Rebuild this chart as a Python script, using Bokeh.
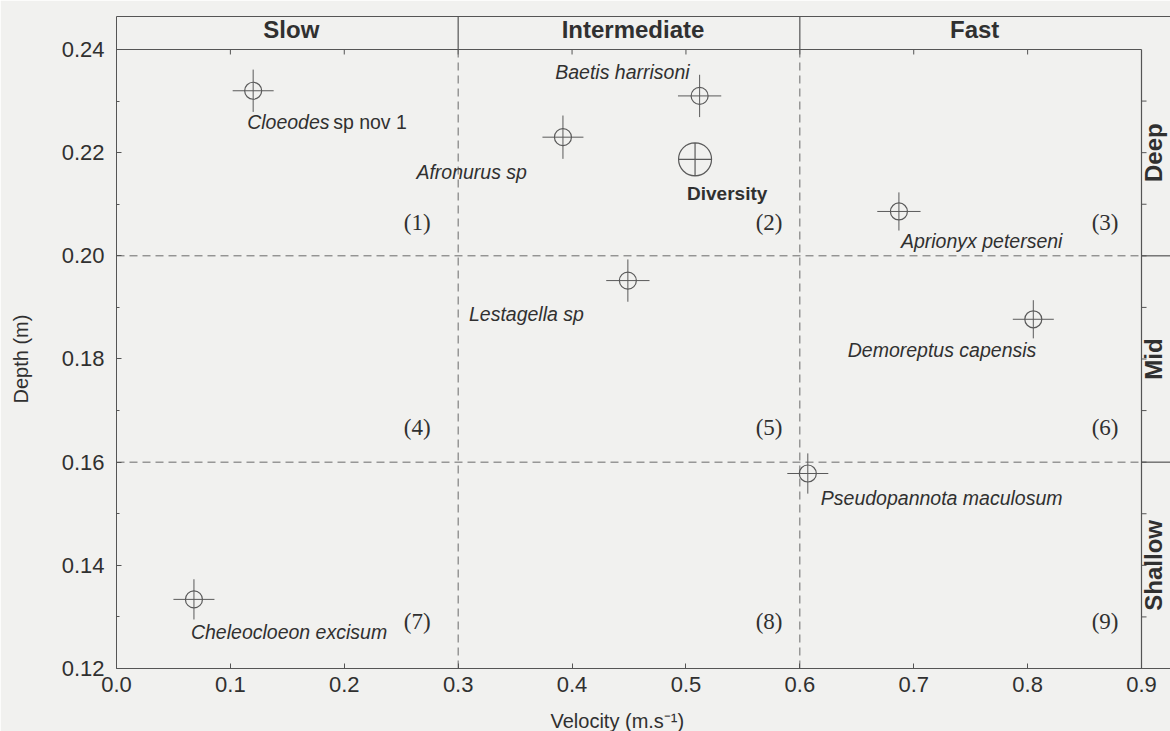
import math

from bokeh.core.properties import value
from bokeh.embed import file_html
from bokeh.models import ColumnDataSource, FixedTicker, LinearAxis, Range1d, Title
from bokeh.plotting import figure
from bokeh.resources import INLINE

# --- data -------------------------------------------------------------------
species_italic = ["Cloeodes", "Afronurus sp", "Baetis harrisoni", "Aprionyx peterseni",
                  "Lestagella sp", "Demoreptus capensis", "Pseudopannota maculosum",
                  "Cheleocloeon excisum"]
species_plain = ["sp nov 1", "", "", "", "", "", "", ""]
velocity = [0.120, 0.392, 0.512, 0.687, 0.449, 0.805, 0.607, 0.068]
depth = [0.2320, 0.2230, 0.2310, 0.2086, 0.1952, 0.1877, 0.1578, 0.1334]
velocity_se = [0.018, 0.018, 0.019, 0.019, 0.019, 0.018, 0.018, 0.018]
depth_se = [0.0041, 0.0042, 0.0041, 0.0037, 0.0041, 0.0037, 0.0039, 0.0039]

diversity_label = ["Diversity"]
diversity_velocity = [0.508]
diversity_depth = [0.2187]

velocity_classes = ["Slow", "Intermediate", "Fast"]
velocity_bounds = [0.0, 0.3, 0.6, 0.9]
depth_classes = ["Deep", "Mid", "Shallow"]
depth_bounds = [0.24, 0.20, 0.16, 0.12]
zone_names = ["(1)", "(2)", "(3)", "(4)", "(5)", "(6)", "(7)", "(8)", "(9)"]

x_ticks = [0.0, 0.1, 0.2, 0.3, 0.4, 0.5, 0.6, 0.7, 0.8, 0.9]
x_tick_labels = ["0.0", "0.1", "0.2", "0.3", "0.4", "0.5", "0.6", "0.7", "0.8", "0.9"]
y_ticks = [0.12, 0.14, 0.16, 0.18, 0.20, 0.22, 0.24]
y_tick_labels = ["0.12", "0.14", "0.16", "0.18", "0.20", "0.22", "0.24"]
y_minor = [0.13, 0.15, 0.17, 0.19, 0.21, 0.23]

x_title = "Velocity (m.s\u207b\u00b9)"
y_title = "Depth (m)"

# --- layout constants ---------------------------------------------------------
W, H = 1170, 731
PX_X = 1138.9          # pixels per m/s
PX_Y = 5160.0          # pixels per m
HEAD = 33 / PX_Y       # height of the velocity-class strip
SIDE = 29 / PX_X       # width of the depth-class strip
V_MAX = velocity_bounds[-1]
D_MAX = depth_bounds[0]
D_MIN = depth_bounds[-1]

BG = "#f1f1ef"
INK = "#303030"
FRAME = "#555555"
DASH = "#6a6a6a"
MARK = "#5a5a5a"
SANS = "Liberation Sans"
SERIF = "Liberation Serif"

p = figure(width=W, height=H,
           x_range=Range1d(0, V_MAX + SIDE), y_range=Range1d(D_MIN, D_MAX + HEAD),
           output_backend="svg", toolbar_location=None,
           min_border_left=116, min_border_right=0, min_border_top=16, min_border_bottom=63,
           background_fill_color=BG, border_fill_color=BG, outline_line_color=None)
p.grid.visible = False

# bottom axis
xa = p.xaxis[0]
xa.ticker = FixedTicker(ticks=x_ticks, minor_ticks=[])
xa.major_label_overrides = {t: s for t, s in zip(x_ticks, x_tick_labels)}
xa.major_tick_in = 5
xa.major_tick_out = 0
xa.minor_tick_in = 0
xa.minor_tick_out = 0
xa.major_label_standoff = 8
xa.major_label_text_font = SANS
xa.major_label_text_font_size = "22px"
xa.major_label_text_color = INK
xa.axis_line_color = FRAME
xa.major_tick_line_color = FRAME
# blank spacer label pushes the title panel away from the tick labels
xa.axis_label = " "
xa.axis_label_text_font_size = "1px"
xa.axis_label_standoff = 9

# left axis
ya = p.yaxis[0]
ya.ticker = FixedTicker(ticks=y_ticks, minor_ticks=y_minor)
ya.major_label_overrides = {t: s for t, s in zip(y_ticks, y_tick_labels)}
ya.major_tick_in = 5
ya.major_tick_out = 0
ya.minor_tick_in = 3
ya.minor_tick_out = 0
ya.major_label_standoff = 12
ya.major_label_text_font = SANS
ya.major_label_text_font_size = "22px"
ya.major_label_text_color = INK
ya.axis_line_color = FRAME
ya.major_tick_line_color = FRAME
ya.minor_tick_line_color = FRAME
ya.axis_label = " "
ya.axis_label_text_font_size = "1px"
ya.axis_label_standoff = 23

# axis titles, set in the side panels
p.add_layout(Title(text=y_title, align="left", offset=265, standoff=0,
                   text_font=SANS, text_font_size="20px", text_font_style="normal",
                   text_color=INK), "left")
p.add_layout(Title(text=x_title, align="left", offset=434, standoff=0,
                   text_font=SANS, text_font_size="20px", text_font_style="normal",
                   text_color=INK), "below")

# top border line of the class strip
top = LinearAxis(ticker=FixedTicker(ticks=[]), major_tick_in=0, major_tick_out=0,
                 minor_tick_in=0, minor_tick_out=0, major_label_text_font_size="0px",
                 axis_line_color=FRAME)
p.add_layout(top, "above")

# frame of the plotting region (top and right edges)
p.segment(x0=[0, V_MAX], y0=[D_MAX, D_MIN], x1=[V_MAX, V_MAX], y1=[D_MAX, D_MAX],
          line_color=FRAME, line_width=1.2)

# inner ticks along the top edge and outer ticks along the right edge
tick_x = x_ticks[1:-1]
p.segment(x0=tick_x, y0=[D_MAX] * len(tick_x), x1=tick_x,
          y1=[D_MAX - 5 / PX_Y] * len(tick_x), line_color=FRAME, line_width=1)
right_ticks = sorted(y_ticks[1:-1] + y_minor)
p.segment(x0=[V_MAX] * len(right_ticks), y0=right_ticks,
          x1=[V_MAX + 5 / PX_X] * len(right_ticks), y1=right_ticks,
          line_color=FRAME, line_width=1)

# class boundaries: dashed inside the plot, solid across the strips
inner_v = velocity_bounds[1:-1]
inner_d = depth_bounds[1:-1]
p.segment(x0=inner_v, y0=[D_MIN] * 2, x1=inner_v, y1=[D_MAX] * 2,
          line_color=DASH, line_width=1, line_dash="8 5")
p.segment(x0=[0] * 2, y0=inner_d, x1=[V_MAX] * 2, y1=inner_d,
          line_color=DASH, line_width=1, line_dash="8 5")
p.segment(x0=inner_v, y0=[D_MAX] * 2, x1=inner_v, y1=[D_MAX + HEAD] * 2,
          line_color=FRAME, line_width=1.2)
p.segment(x0=[V_MAX] * 2, y0=inner_d, x1=[V_MAX + SIDE] * 2, y1=inner_d,
          line_color=FRAME, line_width=1.2)

# class names
col_mid = [(a + b) / 2 for a, b in zip(velocity_bounds[:-1], velocity_bounds[1:])]
row_mid = [(a + b) / 2 for a, b in zip(depth_bounds[:-1], depth_bounds[1:])]
p.text(x=col_mid, y=[D_MAX + HEAD / 2] * 3, text=velocity_classes,
       text_align="center", text_baseline="middle", x_offset=4, y_offset=-3,
       text_font=value(SANS), text_font_style="bold", text_font_size="24px",
       text_color=INK)
p.text(x=[V_MAX + SIDE / 2] * 3, y=row_mid, text=depth_classes, angle=math.pi / 2,
       text_align="center", text_baseline="middle", x_offset=-3,
       text_font=value(SANS), text_font_style="bold", text_font_size="24px",
       text_color=INK)

# zone numbers
zone_x = [0.264, 0.573, 0.868]
zone_y = [0.2065, 0.1667, 0.1291]
zx = [zone_x[i % 3] for i in range(9)]
zy = [zone_y[i // 3] for i in range(9)]
p.text(x=zx, y=zy, text=zone_names, text_align="center", text_baseline="middle",
       text_font=value(SERIF), text_font_size="23px", text_color=INK)

# error bars and markers
p.segment(x0=[v - e for v, e in zip(velocity, velocity_se)], y0=depth,
          x1=[v + e for v, e in zip(velocity, velocity_se)], y1=depth,
          line_color=MARK, line_width=1)
p.segment(x0=velocity, y0=[d - e for d, e in zip(depth, depth_se)],
          x1=velocity, y1=[d + e for d, e in zip(depth, depth_se)],
          line_color=MARK, line_width=1)
p.scatter(x=velocity, y=depth, marker="circle", size=17,
          fill_color=None, line_color=MARK, line_width=1.2)
p.scatter(x=diversity_velocity, y=diversity_depth, marker="circle_cross", size=33,
          fill_color=None, line_color=MARK, line_width=1.2)

# species labels (offsets in screen pixels)
label_dx = [-6, -36, -10, 2, -44, 3, 13, -3]
label_dy = [31, 35, -24, 30, 33, 31, 24, 33]
label_align = ["left", "right", "right", "left", "right", "right", "left", "left"]
src = ColumnDataSource(dict(x=velocity, y=depth, t=species_italic,
                            dx=label_dx, dy=label_dy, al=label_align))
p.text(x="x", y="y", text="t", x_offset="dx", y_offset="dy", text_align="al",
       text_baseline="middle", source=src, text_font=value(SANS),
       text_font_style="italic", text_font_size="19.5px", text_color=INK)

plain = [(v, d, s) for v, d, s in zip(velocity, depth, species_plain) if s]
p.text(x=[a[0] for a in plain], y=[a[1] for a in plain], text=[a[2] for a in plain],
       x_offset=80, y_offset=31, text_align="left", text_baseline="middle",
       text_font=value(SANS), text_font_size="19.5px", text_color=INK)

p.text(x=diversity_velocity, y=diversity_depth, text=diversity_label,
       x_offset=-8, y_offset=34, text_align="left", text_baseline="middle",
       text_font=value(SANS), text_font_style="bold", text_font_size="19px",
       text_color=INK)

open("out.html", "w").write(file_html(p, INLINE))
